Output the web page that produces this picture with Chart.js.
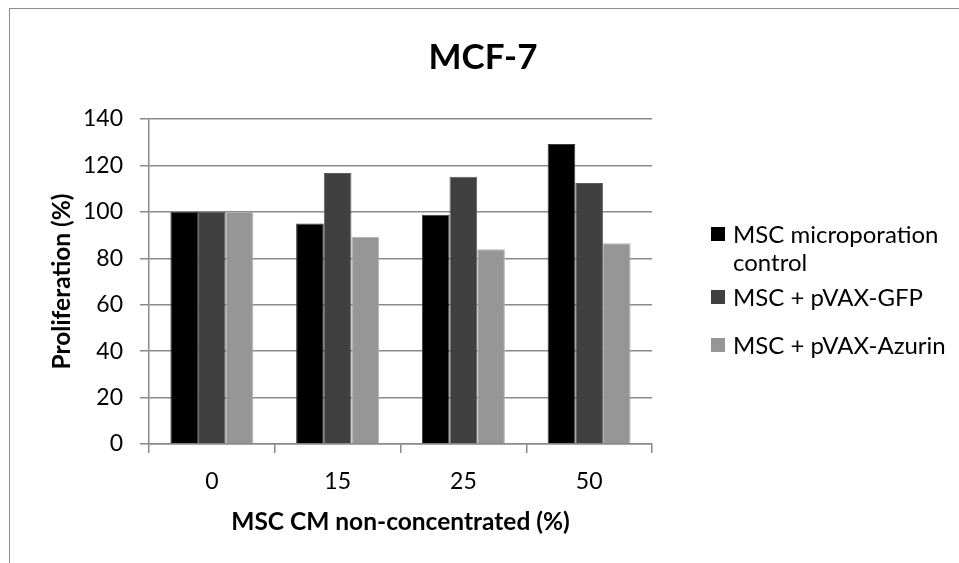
<!DOCTYPE html>
<html>
<head>
<meta charset="utf-8">
<script src="https://cdn.jsdelivr.net/npm/chart.js@4.4.1/dist/chart.umd.min.js"></script>
<style>
  html, body { margin: 0; padding: 0; background: #fff; }
  #wrap { position: relative; width: 959px; height: 563px; overflow: hidden; }
  #frame { position: absolute; left: 9px; top: 8px; width: 1000px; height: 600px; border: 1px solid #8c8c8c; box-sizing: border-box; }
  #chart { position: absolute; left: 0; top: 0; }
  #title { position: absolute; left: 383px; width: 200px; top: 34px; text-align: center; font-family: Lato, sans-serif; font-weight: bold; font-size: 35px; line-height: 42px; color: #000; }
  .lg-item { position: absolute; left: 711px; width: 245px; font-family: Lato, sans-serif; font-size: 24px; line-height: 28px; color: #000; }
  .lg-box { position: absolute; left: 0; top: 7px; width: 14px; height: 14px; }
  .lg-text { margin-left: 22px; }
</style>
</head>
<body>
<div id="wrap">
  <div id="frame"></div>
  <canvas id="chart" width="959" height="563"></canvas>
  <div id="title">MCF-7</div>
  <div id="legend"></div>
</div>
<script>
const categories = ["0", "15", "25", "50"];
const seriesNames = ["MSC microporation control", "MSC + pVAX-GFP", "MSC + pVAX-Azurin"];
const controlVals = [100, 95.0, 98.8, 129.2];
const gfpVals = [100, 116.7, 115.1, 112.4];
const azurinVals = [100, 89.2, 83.9, 86.5];
const yTicks = [0, 20, 40, 60, 80, 100, 120, 140];

const fills = ["#000000", "#404040", "#969696"];
const edges = ["#3c3c3c", "#5c5c5c", "#b4b4b4"];
const gridCol = "#8a8a8a";

const ctx = document.getElementById("chart").getContext("2d");
const chart = new Chart(ctx, {
  type: "bar",
  data: {
    labels: categories,
    datasets: [controlVals, gfpVals, azurinVals].map((vals, i) => ({
      label: seriesNames[i],
      data: vals,
      backgroundColor: fills[i],
      borderColor: edges[i],
      borderWidth: 1,
      barPercentage: 1,
      categoryPercentage: 0.66 }))
  },
  options: {
    responsive: false,
    animation: false,
    layout: { padding: { left: 47, right: 307, top: 119, bottom: 26 } },
    plugins: {
      legend: { display: false },
      tooltip: { enabled: false }
    },
    scales: {
      x: {
        afterFit: s => { s.height = 93; },
        grid: { offset: true, drawOnChartArea: false, drawTicks: true, tickLength: 9, color: gridCol, lineWidth: 1.5 },
        border: { color: gridCol, width: 1.5 },
        ticks: { color: "#000", padding: 15, font: { family: "Lato", size: 23 } },
        title: {
          display: true,
          text: "MSC CM non-concentrated (%)",
          color: "#000",
          padding: 0,
          font: { family: "Lato", size: 24.5, weight: "bold" } }
      },
      y: {
        min: 0,
        max: 140,
        afterFit: s => { s.width = 102; },
        afterBuildTicks: s => { s.ticks = yTicks.map(v => ({ value: v })); },
        grid: { color: gridCol, lineWidth: 1.5, tickLength: 9 },
        border: { color: gridCol, width: 1.5 },
        ticks: { color: "#000", padding: 17, font: { family: "Lato", size: 23 } },
        title: {
          display: true,
          text: "Proliferation (%)",
          color: "#000",
          padding: 0,
          font: { family: "Lato", size: 24.5, weight: "bold" } }
      }
    }
  }
});

// legend on the right, drawn as html
const legendTops = [220, 283, 331];
const legend = document.getElementById("legend");
seriesNames.forEach((name, i) => {
  const item = document.createElement("div");
  item.className = "lg-item";
  item.style.top = legendTops[i] + "px";
  item.innerHTML = `<div class="lg-box" style="background:${fills[i]}"></div><div class="lg-text">${name}</div>`;
  legend.appendChild(item);
});
</script>
</body>
</html>
